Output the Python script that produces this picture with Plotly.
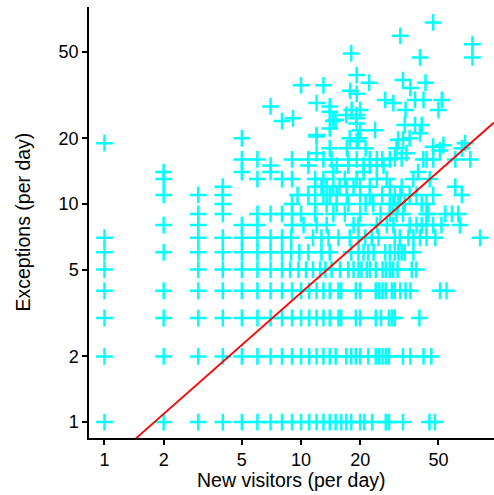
import numpy as np
import plotly.graph_objects as go

# ---- data: x values (new visitors per day) for each integer exceptions row ----
row1_x = [1, 2, 3, 4, 5, 6, 7, 8, 9, 10, 11, 12, 13, 14, 15, 16, 17, 18, 20, 21, 23, 27, 28, 33, 45, 48]
row2_x = [1, 2, 3, 4, 5, 6, 7, 8, 9, 10, 11, 12, 13, 14, 15, 17, 18, 19, 20, 22, 24, 25, 26, 27, 28, 33, 36, 42, 46]
row3_x = [1, 2, 3, 4, 5, 6, 7, 8, 9, 10, 11, 12, 13, 14, 15.5, 16, 19, 20, 24, 25.5, 28, 29, 30, 40]
row4_x = [1, 2, 3, 4, 5, 6, 7, 8, 9, 10, 11, 12, 13, 14, 15.5, 16, 19, 20, 24, 25, 26, 27, 29, 30, 32, 34, 36, 51, 55]
row5_x = [1, 3, 4, 5, 6, 7, 8, 8.8, 9.7, 10.6, 11.5, 12.5, 13.3, 14.3, 15.8, 17.4, 18.5, 19.6, 20.3, 21.6,
          22.4, 24, 26, 27, 28.3, 29.4, 31, 36.6, 38.6]
row6_x = [1, 2, 3, 4, 5, 6, 7, 8, 8.9, 9.8, 10.9, 12.7, 14, 18, 19.6, 20.8, 22, 23.4, 26.8, 28.3, 30, 31.3,
          32.5, 33.7, 37.3]
row7_x = [1, 3, 4, 5, 6, 7, 8, 8.9, 11.5, 12.7, 13.8, 15.5, 17.7, 19.6, 21.2, 22.9, 24.8, 30, 31.8, 35.2,
          37.3, 40.3, 43.5, 48.2, 81.5]
row8_x = [2, 3, 5, 6, 9, 10.3, 12, 13.5, 18.5, 19.6, 24.3, 27.3, 29.5, 35.7, 38.7, 41.1, 43.5, 47, 51.8, 64.3]
row9_x = [3, 4, 6, 7, 8, 9, 10, 11.8, 14.6, 16.7, 20, 25.4, 28.3, 30.6, 33, 43.5, 44.4, 54.2, 58.6, 63.1]
row10_x = [4, 9, 11.8, 13.5, 15.2, 17.4, 21.3, 23.3, 28.3, 29.5, 31.2, 33.7, 41.1, 43.5]
row11_x = [2, 3, 4, 9.6, 10.9, 13, 14, 15.2, 17.1, 20, 22.4, 25.9, 30, 32, 35.7, 38.7, 47, 65.8]
row12_x = [4, 11.8, 12.7, 13.5, 14.6, 15.7, 17.1, 18.5, 20, 22.4, 28.3, 32.5, 60.9]
row13_x = [2, 6, 8, 9, 11.8, 13, 16.7, 19.2, 24.3, 27.3, 37.2, 45.2]
row14_x = [2, 5, 7, 14.6, 20.8, 39.4]
row15_x = [7, 10.9, 15.2, 17.4, 20.8, 22.4, 24.3, 26.3]
row16_x = [5, 6, 9, 10.9, 13, 14.3, 17.4, 19.2, 22.4, 24.3, 25.9, 28.3, 41.9, 43.5, 47, 60.9, 72.7]

# ---- scattered upper points (x, y) ----
upper_x = [12, 14, 17.1, 21.3, 47, 53, 50.9, 65.8, 30.6, 34.4, 32.5, 30,
           5, 12, 17.7, 19.6, 19.2, 31.2, 33, 35.7, 1, 68.3,
           14, 20, 23.8, 40.3, 12,
           9.1, 8, 14.6, 19.2, 19.2, 33.7, 38, 41.1, 15,
           18, 19.2, 22.2, 10, 13, 17.8, 19.2, 26.8, 29.5, 12, 14, 14, 18.1, 20, 17, 19.2, 7,
           47, 32, 74.5, 74.5, 40.3, 33, 36, 43, 38, 42, 52, 34, 50]
upper_y = [17.1, 18, 18, 18, 18.3, 18.6, 17.6, 18, 18, 17.1, 16.2, 16.2,
           20, 20.4, 20, 20, 19.4, 19.7, 19.7, 20, 19, 19,
           22.2, 21.8, 21.8, 21.1, 20.7,
           24.7, 24, 24, 24.7, 23.4, 23, 23, 23, 24.3,
           49, 39, 36, 35, 35, 33, 32, 30, 29, 29, 28, 26.5, 27, 27, 25.6, 25.6, 28,
           68, 59, 54, 47, 47, 37, 34, 36, 30, 30, 30, 27, 27]

tick_vals = [1, 2, 5, 10, 20, 50]
tick_text = ["1", "2", "5", "10", "20", "50"]

# ---- fitted line (log-log) ----
fit_intercept = 0.628
fit_slope = 0.795

x_range = [0.834, 95.9]
y_range = [0.845, 80.0]

rows = [(1, row1_x), (2, row2_x), (3, row3_x), (4, row4_x), (5, row5_x), (6, row6_x), (7, row7_x),
        (8, row8_x), (9, row9_x), (10, row10_x), (11, row11_x), (12, row12_x), (13, row13_x),
        (14, row14_x), (15, row15_x), (16, row16_x)]
xs, ys = [], []
for yv, xl in rows:
    xs.extend(xl)
    ys.extend([yv] * len(xl))
xs.extend(upper_x)
ys.extend(upper_y)

fig = go.Figure()
fig.add_trace(go.Scatter(
    x=xs, y=ys, mode="markers",
    marker=dict(symbol="cross-thin", size=12, line=dict(color="#00FFFF", width=2.5), color="#00FFFF"),
    showlegend=False, hoverinfo="skip"))

lx = np.array(x_range)
ly = fit_intercept * lx ** fit_slope
fig.add_trace(go.Scatter(x=lx, y=ly, mode="lines", line=dict(color="#FF0000", width=1.8),
                         showlegend=False, hoverinfo="skip"))

tick_font = dict(family="Liberation Sans, Arial, sans-serif", size=18, color="#000000")
title_font = dict(family="Liberation Sans, Arial, sans-serif", size=19.5, color="#000000")

axis_common = dict(type="log", tickvals=tick_vals, ticktext=tick_text,
                   showgrid=False, zeroline=False, showline=True, linecolor="black", linewidth=1.5,
                   ticks="outside", ticklen=5, tickwidth=1.5, tickcolor="black",
                   automargin=False, tickfont=tick_font)

fig.update_layout(
    width=494, height=495,
    margin=dict(l=89, r=0, t=7, b=57, autoexpand=False),
    paper_bgcolor="white", plot_bgcolor="white",
    xaxis=dict(range=[np.log10(x_range[0]), np.log10(x_range[1])], **axis_common),
    yaxis=dict(range=[np.log10(y_range[0]), np.log10(y_range[1])], **axis_common),
    annotations=[
        dict(text="New visitors (per day)", xref="paper", yref="paper", x=0.5, y=0,
             xanchor="center", yanchor="middle", yshift=-42, showarrow=False, font=title_font),
        dict(text="Exceptions (per day)", xref="paper", yref="paper", x=0, y=0.5,
             xanchor="center", yanchor="middle", xshift=-67, textangle=-90, showarrow=False,
             font=title_font),
    ],
)
fig.write_html("out.html", config={"displayModeBar": False},
               post_script="document.body.style.margin='0px';")
